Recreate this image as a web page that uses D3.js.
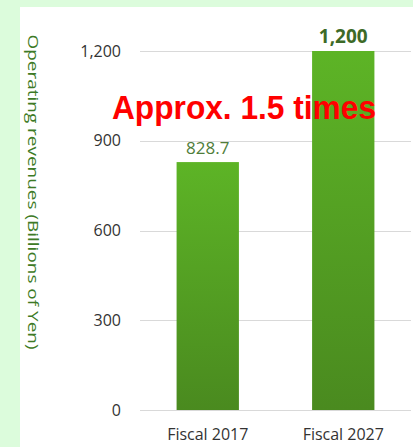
<!DOCTYPE html>
<html>
<head>
<meta charset="utf-8">
<script src="https://cdn.jsdelivr.net/npm/d3@7"></script>
<style>
  html, body { margin: 0; padding: 0; background: #dcfcdc; }
  svg { display: block; }
</style>
</head>
<body>
<div id="chart"></div>
<script>
// Chart data
const categories = ["Fiscal 2017", "Fiscal 2027"];
const revenues = [828.7, 1200];
const valueLabels = ["828.7", "1,200"];
const yTicks = [0, 300, 600, 900, 1200];

const width = 413, height = 447;
const margin = { top: 51, right: 2, bottom: 37, left: 140 };
const font = "'Open Sans', 'Liberation Sans', sans-serif";

const svg = d3.select("#chart").append("svg")
    .attr("width", width)
    .attr("height", height);

// Light green frame, white panel
svg.append("rect").attr("width", width).attr("height", height).attr("fill", "#dcfcdc");
svg.append("rect").attr("x", 20).attr("y", 7).attr("width", width - 20).attr("height", height - 7).attr("fill", "#ffffff");

// Bar gradient
const defs = svg.append("defs");
const grad = defs.append("linearGradient")
    .attr("id", "barGrad")
    .attr("x1", 0).attr("y1", 0).attr("x2", 0).attr("y2", 1);
grad.append("stop").attr("offset", "0%").attr("stop-color", "#5db426");
grad.append("stop").attr("offset", "100%").attr("stop-color", "#4a8a1f");

const x = d3.scaleBand()
    .domain(categories)
    .range([margin.left, width - margin.right])
    .paddingInner(0.54)
    .paddingOuter(0.27);

const y = d3.scaleLinear()
    .domain([0, 1200])
    .range([height - margin.bottom, margin.top]);

// Gridlines
svg.append("g")
    .selectAll("line")
    .data(yTicks)
    .join("line")
    .attr("x1", margin.left)
    .attr("x2", width - margin.right)
    .attr("y1", d => Math.round(y(d)) + 0.5)
    .attr("y2", d => Math.round(y(d)) + 0.5)
    .attr("stroke", "#d9d9d9")
    .attr("stroke-width", 1);

// Y axis labels
const yAxis = svg.append("g")
    .attr("transform", `translate(${margin.left - 19},0)`)
    .call(d3.axisLeft(y).tickValues(yTicks).tickSize(0).tickPadding(0).tickFormat(d3.format(",")));
yAxis.select(".domain").remove();
yAxis.selectAll("text")
    .attr("font-family", font)
    .attr("font-size", 16)
    .attr("fill", "#333333");

// Bars
svg.append("g")
    .selectAll("rect")
    .data(revenues)
    .join("rect")
    .attr("x", (d, i) => x(categories[i]))
    .attr("y", d => y(d))
    .attr("width", x.bandwidth())
    .attr("height", d => y(0) - y(d))
    .attr("fill", "url(#barGrad)");

// Value labels
svg.append("g")
    .selectAll("text")
    .data(revenues)
    .join("text")
    .attr("x", (d, i) => x(categories[i]) + x.bandwidth() / 2)
    .attr("y", d => y(d) - 8)
    .attr("text-anchor", "middle")
    .attr("font-family", font)
    .attr("font-size", (d, i) => i === 1 ? 19 : 17)
    .attr("font-weight", (d, i) => i === 1 ? "bold" : "normal")
    .attr("fill", (d, i) => i === 1 ? "#3d6a27" : "#4f7d3a")
    .text((d, i) => valueLabels[i]);

// X axis labels
const xAxis = svg.append("g")
    .attr("transform", `translate(0,${height - margin.bottom})`)
    .call(d3.axisBottom(x).tickSize(0).tickPadding(19));
xAxis.select(".domain").remove();
xAxis.selectAll("text")
    .attr("font-family", font)
    .attr("font-size", 16)
    .attr("fill", "#333333");

// Y axis title
svg.append("text")
    .attr("transform", "translate(28,192) rotate(90)")
    .attr("text-anchor", "middle")
    .attr("font-family", font)
    .attr("font-size", 15)
    .attr("fill", "#3d7a25")
    .attr("textLength", 315)
    .attr("lengthAdjust", "spacingAndGlyphs")
    .text("Operating revenues (Billions of Yen)");

// Annotation
svg.append("text")
    .attr("x", 112)
    .attr("y", 119)
    .attr("font-family", "'Liberation Sans', Arial, sans-serif")
    .attr("font-size", 33)
    .attr("font-weight", "bold")
    .attr("fill", "#ff0000")
    .attr("textLength", 264)
    .attr("lengthAdjust", "spacingAndGlyphs")
    .text("Approx. 1.5 times");
</script>
</body>
</html>
